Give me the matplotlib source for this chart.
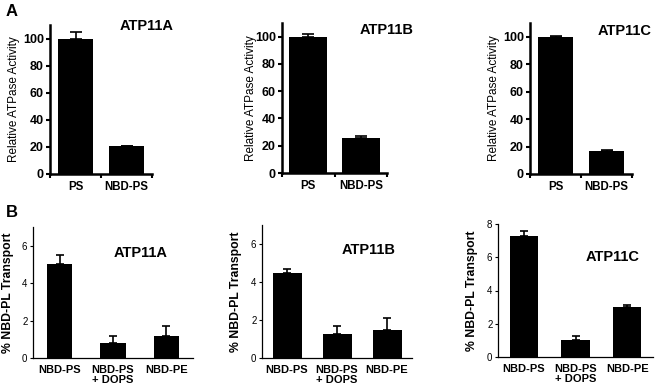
import matplotlib
matplotlib.use("Agg")
import matplotlib.pyplot as plt

plt.rcParams['font.family'] = ['Liberation Sans', 'DejaVu Sans']

# panel A: relative ATPase activity
atp_names = ["ATP11A", "ATP11B", "ATP11C"]
atp_cats = ["PS", "NBD-PS"]
atp_vals = [[100, 20.5], [100, 26], [100, 17]]
atp_err = [[5, 0.5], [1.8, 1], [0.5, 0.7]]

# panel B: % NBD-PL transport
tr_cats = ["NBD-PS", "NBD-PS\n+ DOPS", "NBD-PE"]
tr_vals = [[5.0, 0.8, 1.17], [4.5, 1.26, 1.46], [7.3, 1.02, 3.0]]
tr_err = [[0.5, 0.36, 0.52], [0.17, 0.45, 0.65], [0.3, 0.27, 0.1]]
tr_ymax = [7, 7, 8]

fig = plt.figure(figsize=(6.6, 3.9), dpi=100)
W, H = 660.0, 390.0

def rect(l, r, t, b):
    return [l / W, 1 - b / H, (r - l) / W, (b - t) / H]

top_rects = [rect(50, 152, 25, 174), rect(282, 387, 23, 173), rect(530, 632, 23, 174)]
bot_rects = [rect(33, 193, 227, 358), rect(262, 412, 225, 358), rect(498, 653, 224, 357)]
top_widths = [0.7, 0.72, 0.7]
bot_widths = [0.47, 0.58, 0.55]
top_title = [(0.95, 0.99), (1.0, 0.95), (0.93, 0.95)]
bot_title = [(0.67, 0.80), (0.71, 0.81), (0.74, 0.75)]
# right edge (pixels) of the rotated y labels
top_label_x = [20, 257, 500]
bot_label_x = [14, 242, 478]

for i in range(3):
    ax = fig.add_axes(top_rects[i])
    x = range(len(atp_cats))
    ax.bar(x, atp_vals[i], width=top_widths[i], color="black",
           yerr=[[0, 0], atp_err[i]], error_kw=dict(ecolor="black", elinewidth=1.2, capsize=4, capthick=1.2))
    ax.set_xlim(-0.5, 1.5)
    ax.set_ylim(0, 110)
    ax.set_yticks([0, 20, 40, 60, 80, 100])
    ax.set_xticks(list(x))
    ax.set_xticklabels(atp_cats, fontsize=8.3, fontweight="bold")
    ax.set_xticks([-0.5, 0.5, 1.5], minor=True)
    ax.tick_params(axis="x", which="major", length=0, pad=5)
    ax.tick_params(axis="x", which="minor", length=3, width=1.5, direction="out")
    ax.tick_params(axis="y", length=3, width=1.5, labelsize=9, pad=1.5)
    for lab in ax.get_yticklabels():
        lab.set_fontweight("bold")
    for s in ["top", "right"]:
        ax.spines[s].set_visible(False)
    for s in ["left", "bottom"]:
        ax.spines[s].set_linewidth(1.8)
    ax.set_ylabel("Relative ATPase Activity", fontsize=8.5)
    ax.yaxis.set_label_coords((top_label_x[i] - top_rects[i][0] * W) / (top_rects[i][2] * W), 0.5)
    ax.text(top_title[i][0], top_title[i][1], atp_names[i], transform=ax.transAxes, fontsize=10.5,
            fontweight="bold", ha="center", va="center")

for i in range(3):
    ax = fig.add_axes(bot_rects[i])
    x = range(len(tr_cats))
    ax.bar(x, tr_vals[i], width=bot_widths[i], color="black",
           yerr=[[0, 0, 0], tr_err[i]], error_kw=dict(ecolor="black", elinewidth=1.2, capsize=3, capthick=1.2))
    ax.set_xlim(-0.5, 2.5)
    ax.set_ylim(0, tr_ymax[i])
    ax.set_yticks(list(range(0, tr_ymax[i] + 1, 2)))
    ax.set_xticks(list(x))
    ax.set_xticklabels(tr_cats, fontsize=8, fontweight="semibold", linespacing=1.05)
    ax.tick_params(axis="x", length=0, pad=5)
    ax.tick_params(axis="y", length=2.5, width=0.8, labelsize=7, pad=1.5)
    for s in ["top", "right"]:
        ax.spines[s].set_visible(False)
    for s in ["left", "bottom"]:
        ax.spines[s].set_linewidth(0.9)
    ax.set_ylabel("% NBD-PL Transport", fontsize=8.8, fontweight="bold")
    ax.yaxis.set_label_coords((bot_label_x[i] - bot_rects[i][0] * W) / (bot_rects[i][2] * W), 0.5)
    ax.text(bot_title[i][0], bot_title[i][1], atp_names[i], transform=ax.transAxes, fontsize=10.5,
            fontweight="bold", ha="center", va="center")

fig.text(12 / W, 1 - 11 / H, "A", fontsize=12, fontweight="bold", ha="center", va="center")
fig.text(12 / W, 1 - 213 / H, "B", fontsize=12, fontweight="bold", ha="center", va="center")

fig.savefig("out.png", dpi=100)
